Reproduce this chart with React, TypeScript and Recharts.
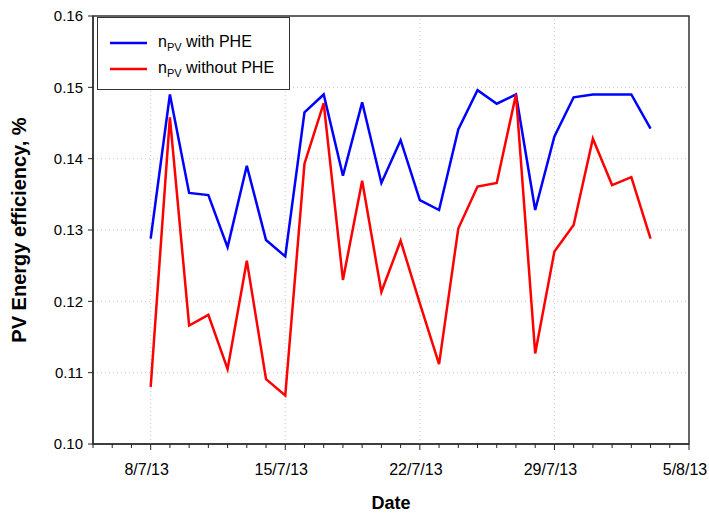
import React from 'react';
import {
  LineChart,
  Line,
  XAxis,
  YAxis,
  CartesianGrid,
  ReferenceLine,
  ReferenceArea,
  Legend,
  Label,
} from 'recharts';

// measurement days (d/m/yy)
const dates = [
  '8/7/13', '9/7/13', '10/7/13', '11/7/13', '12/7/13', '13/7/13', '14/7/13',
  '15/7/13', '16/7/13', '17/7/13', '18/7/13', '19/7/13', '20/7/13', '21/7/13',
  '22/7/13', '23/7/13', '24/7/13', '25/7/13', '26/7/13', '27/7/13', '28/7/13',
  '29/7/13', '30/7/13', '31/7/13', '1/8/13', '2/8/13', '3/8/13',
];

const withPHE = [
  0.1288, 0.149, 0.1352, 0.1349, 0.1276, 0.139, 0.1286,
  0.1263, 0.1465, 0.149, 0.1376, 0.1479, 0.1366, 0.1426,
  0.1342, 0.1328, 0.1441, 0.1496, 0.1477, 0.149, 0.1328,
  0.1431, 0.1486, 0.149, 0.149, 0.149, 0.1442,
];

const withoutPHE = [
  0.108, 0.1458, 0.1166, 0.1181, 0.1105, 0.1257, 0.1091,
  0.1068, 0.1393, 0.1478, 0.123, 0.1369, 0.1213, 0.1285,
  0.1197, 0.1112, 0.1302, 0.1361, 0.1366, 0.149, 0.1127,
  0.127, 0.1307, 0.1428, 0.1363, 0.1374, 0.1288,
];

const majorTicks = ['8/7/13', '15/7/13', '22/7/13', '29/7/13', '5/8/13'];
const yTicks = [0.1, 0.11, 0.12, 0.13, 0.14, 0.15, 0.16];
const xStart = '5/7/13';
const xEnd = '5/8/13';

const DAY = 86400000;
const toTime = (s: string) => {
  const [d, m, y] = s.split('/').map(Number);
  return Date.UTC(2000 + y, m - 1, d);
};

const data = dates.map((d, i) => ({
  t: toTime(d),
  withPHE: withPHE[i],
  withoutPHE: withoutPHE[i],
}));

const x0 = toTime(xStart);
const x1 = toTime(xEnd);
const dayTicks: number[] = [];
for (let t = x0; t <= x1; t += DAY) dayTicks.push(t);
const majorTimes = majorTicks.map(toTime);

const FONT = '"Liberation Sans", Arial, Helvetica, sans-serif';

const fmtDate = (t: number) => {
  const d = new Date(t);
  return `${d.getUTCDate()}/${d.getUTCMonth() + 1}/${String(d.getUTCFullYear()).slice(2)}`;
};

const DateTick = (props: any) => {
  const { x, y, payload } = props;
  const major = majorTimes.includes(payload.value);
  return (
    <g>
      <line x1={x} x2={x} y1={y} y2={y + (major ? 6 : 4)} stroke="#222" strokeWidth={1} />
      {major && (
        <text x={x - 4} y={y + 31} textAnchor="middle" fontSize={16} fill="#000" fontFamily={FONT}>
          {fmtDate(payload.value)}
        </text>
      )}
    </g>
  );
};

const legendItems = [
  { color: '#0000ff', text: 'with PHE' },
  { color: '#ff0000', text: 'without PHE' },
];

const LegendBox = () => (
  <div
    style={{
      width: 193,
      height: 73,
      boxSizing: 'border-box',
      border: '1.5px solid #333',
      background: '#fff',
      fontFamily: FONT,
      fontSize: 16,
      color: '#000',
      paddingTop: 12,
    }}
  >
    {legendItems.map((it) => (
      <div key={it.text} style={{ display: 'flex', alignItems: 'center', height: 26 }}>
        <svg width={60} height={10} style={{ flex: 'none' }}>
          <line x1={12} x2={49} y1={5} y2={5} stroke={it.color} strokeWidth={2.5} />
        </svg>
        <span>
          n<sub style={{ fontSize: 11, verticalAlign: -4 }}>PV</sub> {it.text}
        </span>
      </div>
    ))}
  </div>
);

export default function App() {
  return (
    <div style={{ position: 'absolute', left: 0, top: 0, background: '#fff' }}>
      <LineChart
        width={709}
        height={516}
        data={data}
        margin={{ top: 16, right: 20, left: 0, bottom: 0 }}
      >
        <CartesianGrid vertical={false} stroke="#c8c8c8" strokeDasharray="1 3" />
        {majorTimes.slice(0, -1).map((t) => (
          <ReferenceLine key={t} x={t} stroke="#c8c8c8" strokeDasharray="1 3" />
        ))}
        <XAxis
          dataKey="t"
          type="number"
          scale="linear"
          domain={[x0, x1]}
          ticks={dayTicks}
          interval={0}
          height={72}
          tickSize={0}
          tickMargin={0}
          tickLine={false}
          axisLine={{ stroke: '#333', strokeWidth: 1.5 }}
          tick={<DateTick />}
        >
          <Label
            content={() => (
              <text x={391} y={509} textAnchor="middle" fontSize={18} fontWeight="bold" fontFamily={FONT} fill="#000">
                Date
              </text>
            )}
          />
        </XAxis>
        <YAxis
          type="number"
          domain={[0.1, 0.16]}
          ticks={yTicks}
          width={93}
          tickSize={5}
          tickMargin={5}
          tickLine={{ stroke: '#222' }}
          axisLine={{ stroke: '#333', strokeWidth: 1.5 }}
          tickFormatter={(v: number) => v.toFixed(2)}
          tick={{ fontSize: 15, fill: '#000', fontFamily: FONT }}
        >
          <Label
            content={() => (
              <text
                x={26}
                y={230}
                transform="rotate(-90 26 230)"
                textAnchor="middle"
                fontSize={20}
                fontWeight="bold"
                fontFamily={FONT}
                fill="#000"
              >
                PV Energy efficiency, %
              </text>
            )}
          />
        </YAxis>
        <ReferenceArea x1={x0} x2={x1} y1={0.1} y2={0.16} fill="none" stroke="#333" strokeWidth={1.5} />
        <Legend
          layout="horizontal"
          verticalAlign="middle"
          align="center"
          content={() => <LegendBox />}
          wrapperStyle={{ left: 97, top: 17, width: 193, height: 73 }}
        />
        <Line
          dataKey="withPHE"
          stroke="#0000ff"
          strokeWidth={2.5}
          dot={false}
          isAnimationActive={false}
        />
        <Line
          dataKey="withoutPHE"
          stroke="#ff0000"
          strokeWidth={2.5}
          dot={false}
          isAnimationActive={false}
        />
      </LineChart>
    </div>
  );
}
